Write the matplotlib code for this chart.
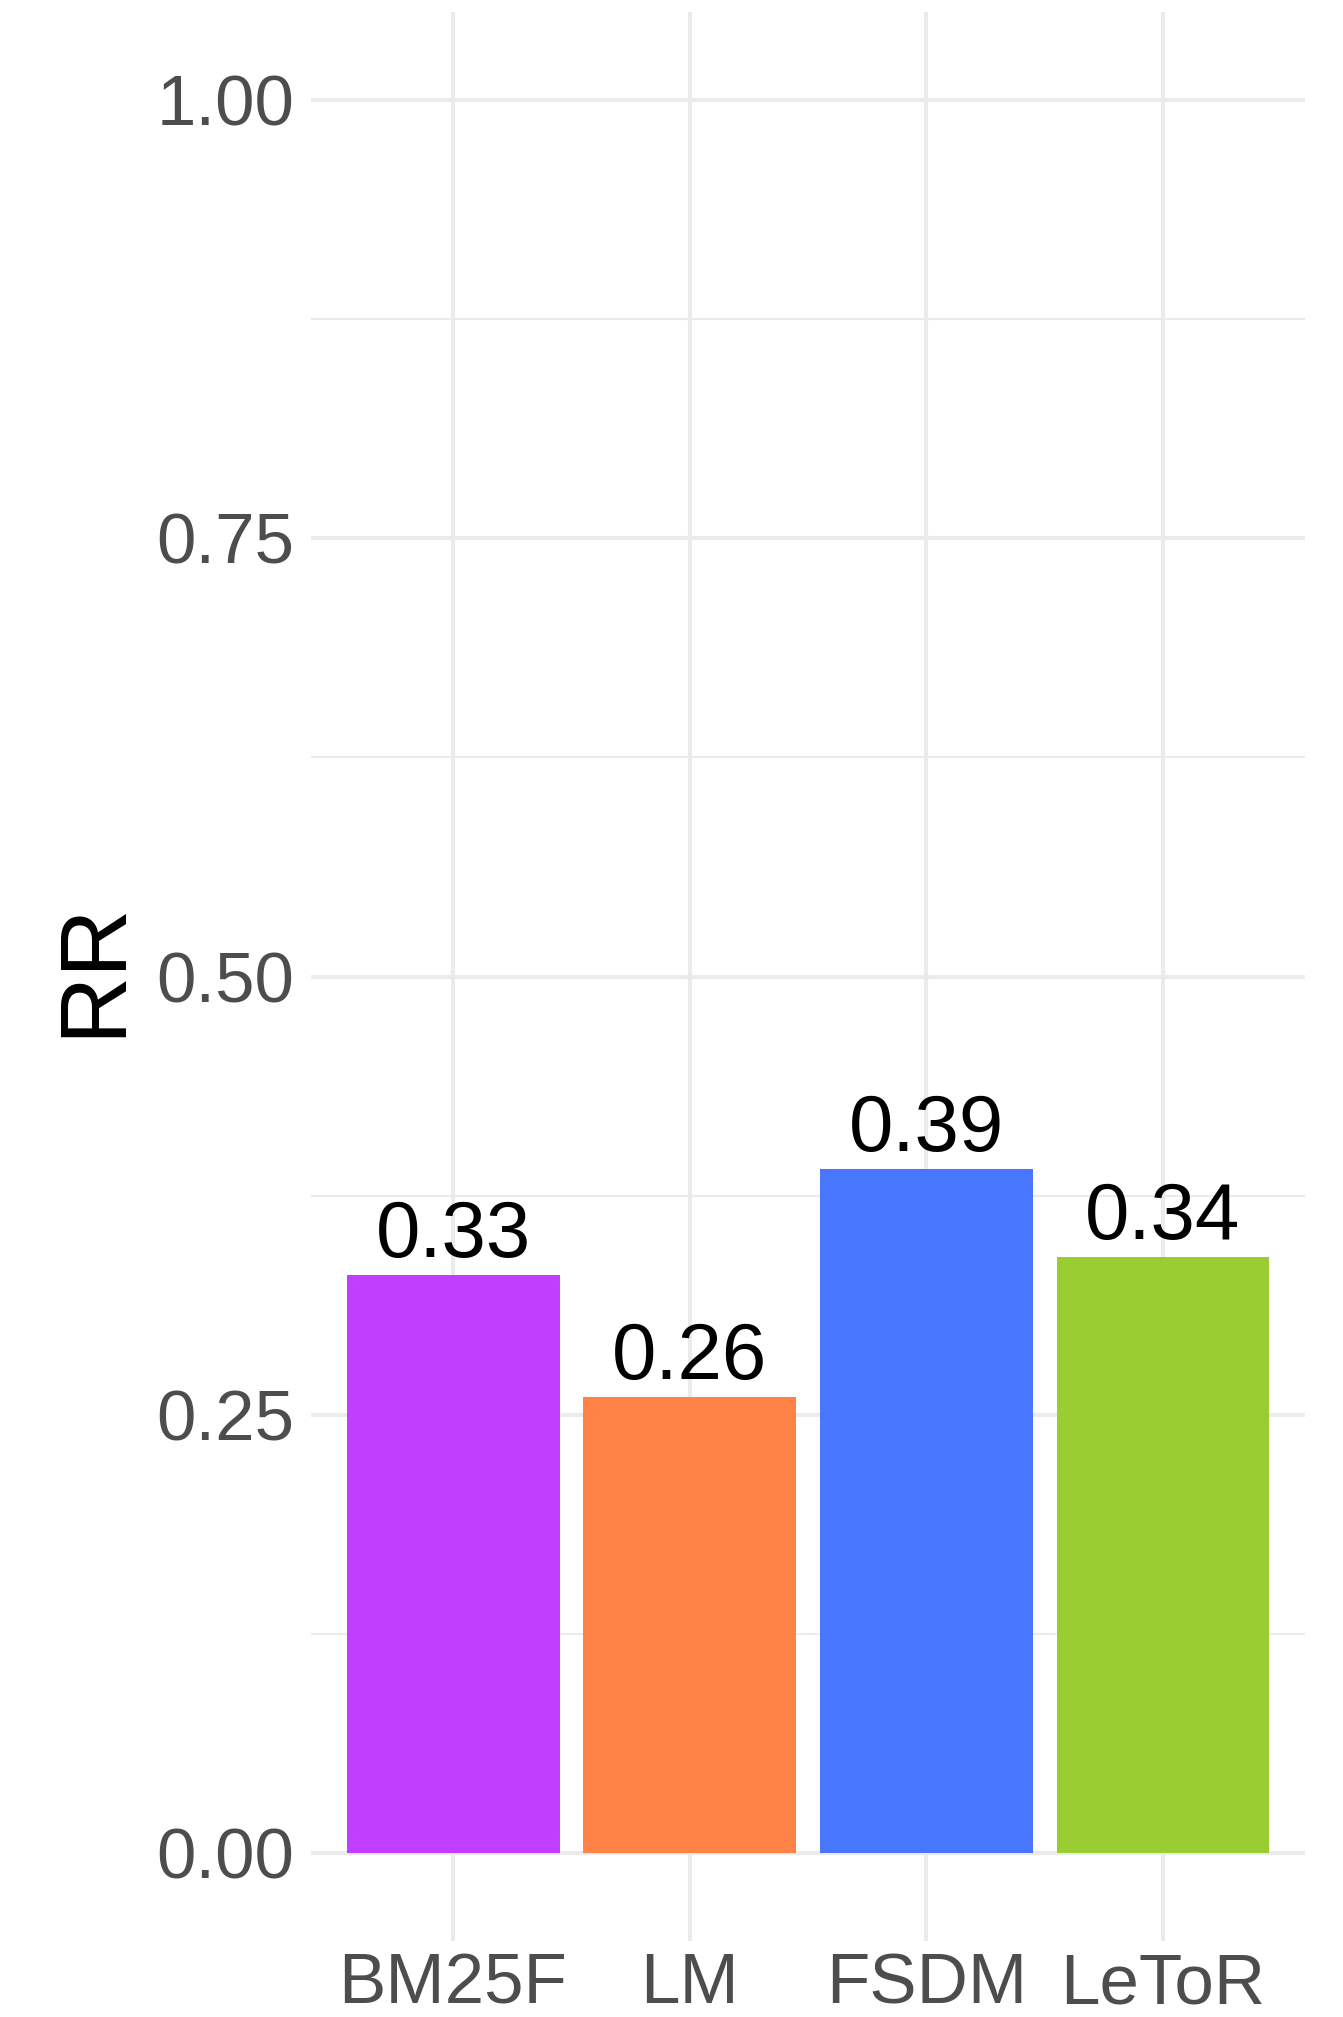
import matplotlib
matplotlib.use("Agg")
import matplotlib.pyplot as plt
from matplotlib.ticker import MultipleLocator

# Data
methods = ["BM25F", "LM", "FSDM", "LeToR"]
rr_values = [0.33, 0.26, 0.39, 0.34]
bar_colors = ["#BF3EFF", "#FF8247", "#4876FF", "#9ACD32"]
y_ticks = [0.0, 0.25, 0.5, 0.75, 1.0]
y_tick_labels = ["0.00", "0.25", "0.50", "0.75", "1.00"]

plt.rcParams["font.family"] = ["Liberation Sans", "DejaVu Sans"]

fig = plt.figure(figsize=(13.43, 20.17), dpi=100)
ax = fig.add_axes([0.2316, 0.0377, 0.9717 - 0.2316, 0.994 - 0.0377])

xpos = list(range(len(methods)))
ax.bar(xpos, rr_values, width=0.9, color=bar_colors, zorder=2)

for x, v in zip(xpos, rr_values):
    ax.annotate(f"{v:.2f}", xy=(x, v), xytext=(0, 13), textcoords="offset points",
                ha="center", va="baseline", fontsize=57.5, color="black", zorder=3)

ax.set_xlim(-0.6, len(methods) - 0.4)
ax.set_ylim(-0.05, 1.05)
ax.set_xticks(xpos)
ax.set_xticklabels(methods)
ax.set_yticks(y_ticks)
ax.set_yticklabels(y_tick_labels)
ax.yaxis.set_minor_locator(MultipleLocator(0.125))

ax.grid(True, which="major", axis="both", color="#EBEBEB", linewidth=2.9, zorder=0)
ax.grid(True, which="minor", axis="y", color="#EBEBEB", linewidth=1.45, zorder=0)
ax.set_axisbelow(True)

ax.tick_params(axis="both", which="both", length=0, labelsize=51, labelcolor="#4D4D4D")
ax.tick_params(axis="y", pad=12)
ax.tick_params(axis="x", pad=8)

for s in ax.spines.values():
    s.set_visible(False)

fig.text(95 / 1343, 1 - 969 / 2017, "RR", rotation=90, ha="center", va="center",
         fontsize=68, color="black")

fig.savefig("out.png", dpi=100, facecolor="white")
